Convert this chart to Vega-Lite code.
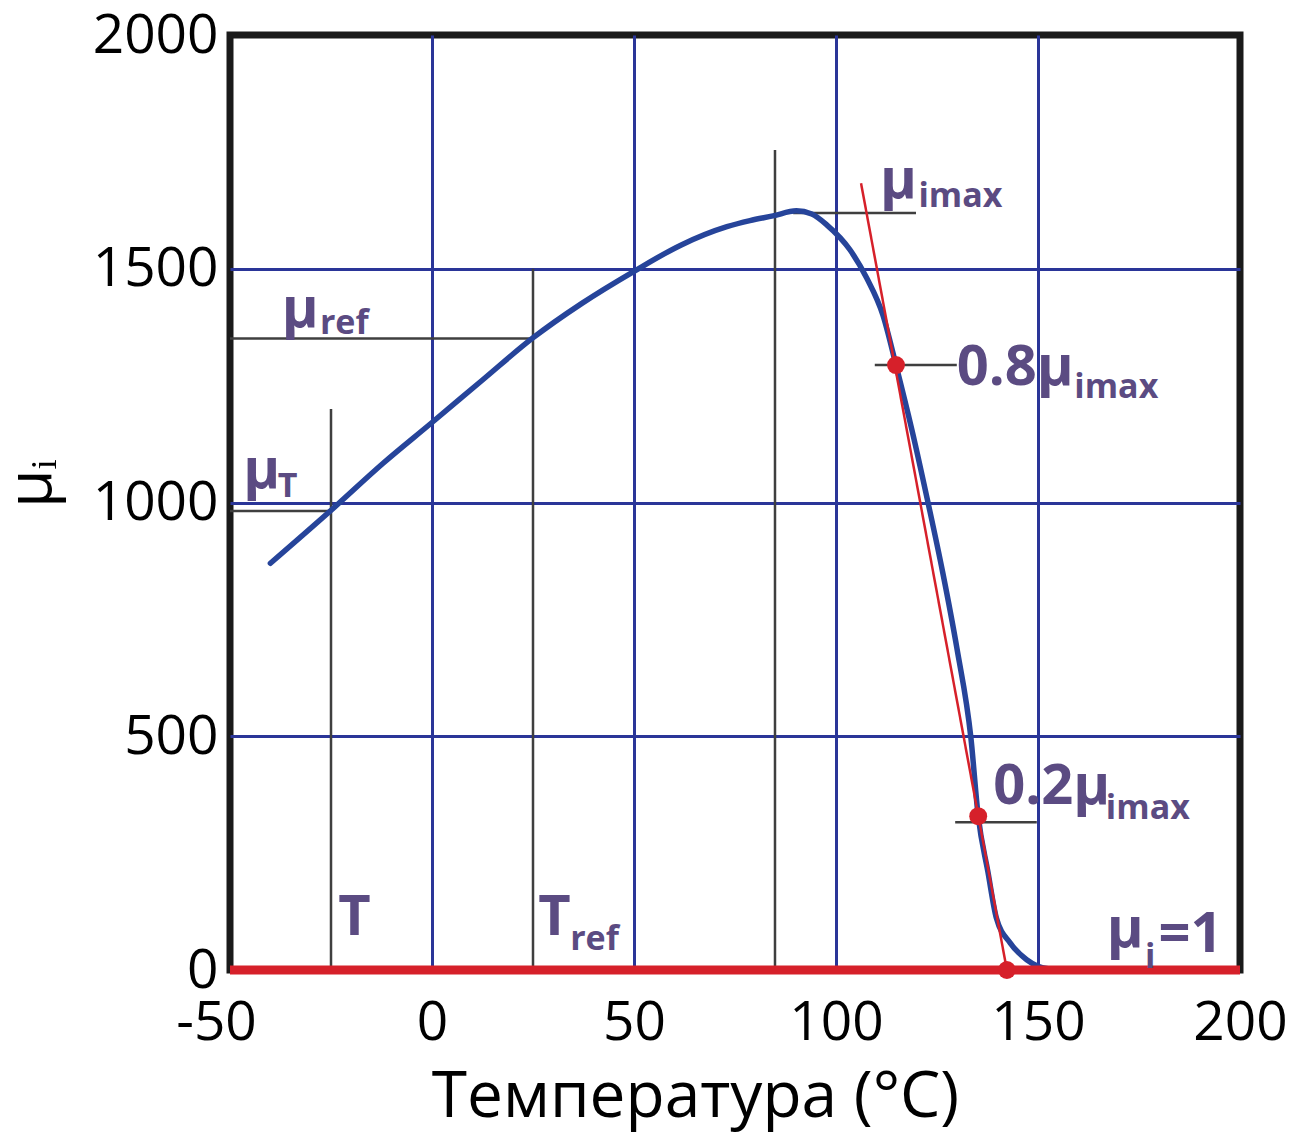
{
  "$schema": "https://vega.github.io/schema/vega-lite/v6.json",
  "width": 1010,
  "height": 935,
  "autosize": {"type": "none"},
  "padding": {"left": 230, "top": 35, "right": 53, "bottom": 166},
  "background": "white",
  "config": {
    "view": {"stroke": "#1a1a1a", "strokeWidth": 7},
    "font": "Open Sans"
  },
  "datasets": {
    "curve": [
      {"t": -40.0, "mu": 870},
      {"t": -24.9, "mu": 984},
      {"t": -12.1, "mu": 1084},
      {"t": -0.3, "mu": 1169},
      {"t": 12.5, "mu": 1262},
      {"t": 24.8, "mu": 1351},
      {"t": 37.1, "mu": 1426},
      {"t": 49.9, "mu": 1494},
      {"t": 61.7, "mu": 1551},
      {"t": 73.0, "mu": 1590},
      {"t": 78.7, "mu": 1603},
      {"t": 84.4, "mu": 1613},
      {"t": 90.2, "mu": 1624},
      {"t": 94.0, "mu": 1617},
      {"t": 97.7, "mu": 1594},
      {"t": 103.5, "mu": 1540},
      {"t": 107.6, "mu": 1480},
      {"t": 111.6, "mu": 1401},
      {"t": 114.85, "mu": 1294},
      {"t": 118.8, "mu": 1155},
      {"t": 122.8, "mu": 999},
      {"t": 126.4, "mu": 851},
      {"t": 129.95, "mu": 687},
      {"t": 133.4, "mu": 496},
      {"t": 135.2, "mu": 329},
      {"t": 137.6, "mu": 210},
      {"t": 139.7, "mu": 111},
      {"t": 143.1, "mu": 58},
      {"t": 147.2, "mu": 22},
      {"t": 150.0, "mu": 8},
      {"t": 152.5, "mu": 3}
    ],
    "guides": [
      {"t": -25, "t2": -25, "mu": 0, "mu2": 1200},
      {"t": -50, "t2": -25, "mu": 982, "mu2": 982},
      {"t": 25, "t2": 25, "mu": 0, "mu2": 1500},
      {"t": -50, "t2": 25, "mu": 1351, "mu2": 1351},
      {"t": 84.9, "t2": 84.9, "mu": 0, "mu2": 1754},
      {"t": 89.4, "t2": 119.8, "mu": 1619, "mu2": 1619},
      {"t": 109.6, "t2": 129.9, "mu": 1294, "mu2": 1294},
      {"t": 129.5, "t2": 149.7, "mu": 316, "mu2": 316}
    ],
    "tangent": [
      {"t": 106.2, "t2": 142.3, "mu": 1683, "mu2": 0}
    ],
    "base": [
      {"t": -50, "t2": 200, "mu": 0, "mu2": 0}
    ],
    "marks": [
      {"t": 114.85, "mu": 1294},
      {"t": 135.2, "mu": 329},
      {"t": 142.3, "mu": 0}
    ],
    "mainText": [
      {"t": -46.7, "mu": 1031, "label": "μ"},
      {"t": -37.2, "mu": 1376, "label": "μ"},
      {"t": 110.9, "mu": 1651, "label": "μ"},
      {"t": 129.9, "mu": 1251, "label": "0.8μ"},
      {"t": 138.9, "mu": 355, "label": "0.2μ"},
      {"t": 167.0, "mu": 50, "label": "μ"},
      {"t": 179.8, "mu": 39, "label": "=1"},
      {"t": -23.2, "mu": 75, "label": "T"},
      {"t": 26.3, "mu": 75, "label": "T"}
    ],
    "subText": [
      {"t": -38.2, "mu": 1012, "label": "T"},
      {"t": -27.75, "mu": 1360, "label": "ref"},
      {"t": 120.4, "mu": 1633, "label": "imax"},
      {"t": 159.0, "mu": 1223, "label": "imax"},
      {"t": 166.8, "mu": 322, "label": "imax"},
      {"t": 176.5, "mu": 4, "label": "i"},
      {"t": 34.2, "mu": 43, "label": "ref"}
    ]
  },
  "encoding": {
    "x": {
      "field": "t",
      "type": "quantitative",
      "scale": {"domain": [-50, 200], "nice": false, "zero": false},
      "axis": {
        "title": "Температура (°C)",
        "values": [-50, 0, 50, 100, 150, 200],
        "labelExpr": "datum.value < 0 ? '-' + (-datum.value) : '' + datum.value",
        "labelFont": "Open Sans",
        "labelFontSize": 55,
        "labelColor": "#000000",
        "labelPadding": 26,
        "labelFlush": false,
        "labelOverlap": false,
        "labelOffset": {"condition": {"test": "datum.value == -50", "value": -14}, "value": 0},
        "ticks": false,
        "domain": false,
        "grid": true,
        "gridColor": {"condition": {"test": "datum.value == -50 || datum.value == 200", "value": "transparent"}, "value": "#2a3598"},
        "gridWidth": 3,
        "gridOpacity": 1,
        "titleFont": "Open Sans",
        "titleFontSize": 64,
        "titleFontWeight": "normal",
        "titleColor": "#000000",
        "titlePadding": 15,
        "titleX": 465,
        "titleAlign": "center"
      }
    },
    "y": {
      "field": "mu",
      "type": "quantitative",
      "scale": {"domain": [0, 2000], "nice": false, "zero": false},
      "axis": {
        "title": "μᵢ",
        "values": [0, 500, 1000, 1500, 2000],
        "format": "d",
        "labelFont": "Open Sans",
        "labelFontSize": 55,
        "labelColor": "#000000",
        "labelPadding": 12,
        "labelOverlap": false,
        "ticks": false,
        "domain": false,
        "grid": true,
        "gridColor": {"condition": {"test": "datum.value == 0 || datum.value == 2000", "value": "transparent"}, "value": "#2a3598"},
        "gridWidth": 3,
        "gridOpacity": 1,
        "titleFont": "Open Sans",
        "titleFontSize": 62,
        "titleFontWeight": "normal",
        "titleColor": "#000000",
        "titlePadding": 29,
        "titleY": 448,
        "titleAlign": "center"
      }
    }
  },
  "layer": [
    {
      "data": {"name": "guides"},
      "mark": {"type": "rule", "color": "#3f3f3f", "strokeWidth": 2.5},
      "encoding": {
        "x2": {"field": "t2"},
        "y2": {"field": "mu2"}
      }
    },
    {
      "data": {"name": "curve"},
      "mark": {"type": "line", "color": "#26449a", "strokeWidth": 5.5, "interpolate": "monotone", "strokeCap": "round"},
      "encoding": {}
    },
    {
      "data": {"name": "tangent"},
      "mark": {"type": "rule", "color": "#d6202a", "strokeWidth": 2.5},
      "encoding": {
        "x2": {"field": "t2"},
        "y2": {"field": "mu2"}
      }
    },
    {
      "data": {"name": "base"},
      "mark": {"type": "rule", "color": "#d6202a", "strokeWidth": 9},
      "encoding": {
        "x2": {"field": "t2"},
        "y2": {"field": "mu2"}
      }
    },
    {
      "data": {"name": "marks"},
      "mark": {"type": "point", "filled": true, "color": "#d6202a", "size": 320, "opacity": 1},
      "encoding": {}
    },
    {
      "data": {"name": "mainText"},
      "mark": {"type": "text", "font": "Open Sans", "fontWeight": "bold", "fontSize": 56, "color": "#5b4b82", "align": "left", "baseline": "alphabetic"},
      "encoding": {"text": {"field": "label"}}
    },
    {
      "data": {"name": "subText"},
      "mark": {"type": "text", "font": "Open Sans", "fontWeight": "bold", "fontSize": 34, "color": "#5b4b82", "align": "left", "baseline": "alphabetic"},
      "encoding": {"text": {"field": "label"}}
    }
  ]
}
